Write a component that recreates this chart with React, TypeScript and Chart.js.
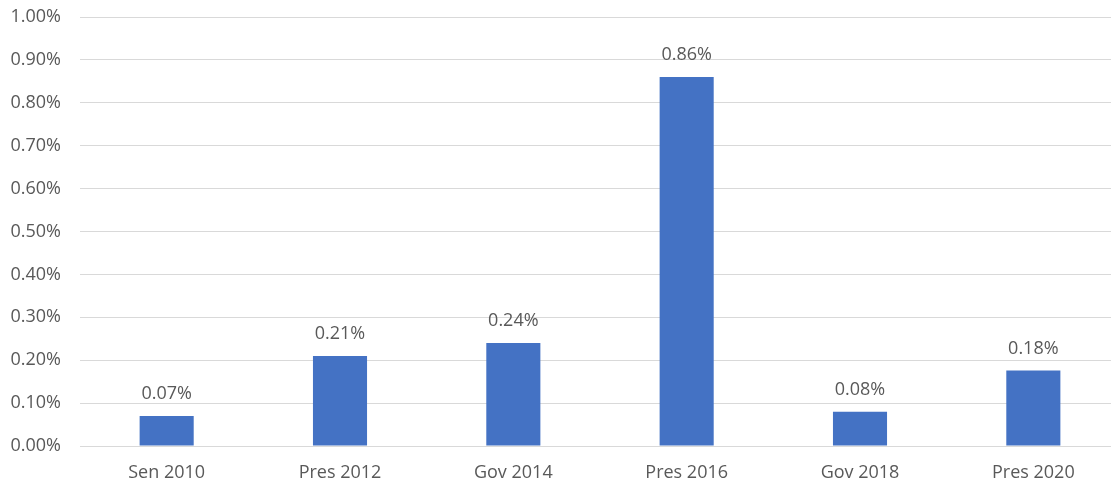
import React, { useEffect, useRef } from "react";
import { Chart, registerables } from "chart.js";

Chart.register(...registerables);

const categories = ["Sen 2010", "Pres 2012", "Gov 2014", "Pres 2016", "Gov 2018", "Pres 2020"];
const values = [0.07, 0.21, 0.24, 0.86, 0.08, 0.176];
const valueLabels = ["0.07%", "0.21%", "0.24%", "0.86%", "0.08%", "0.18%"];

const FONT = "'Open Sans', 'Liberation Sans', sans-serif";
const TEXT = "#595959";

const labelPlugin = {
  id: "barLabels",
  afterDatasetsDraw(chart: any) {
    const ctx = chart.ctx;
    const meta = chart.getDatasetMeta(0);
    ctx.save();
    ctx.font = `18px ${FONT}`;
    ctx.fillStyle = TEXT;
    ctx.textAlign = "center";
    ctx.textBaseline = "middle";
    meta.data.forEach((bar: any, i: number) => {
      ctx.fillText(valueLabels[i], bar.x, bar.y - 22);
    });
    ctx.restore();
  },
};

export default function App() {
  const ref = useRef<HTMLCanvasElement>(null);
  useEffect(() => {
    document.body.style.margin = "0";
    const chart = new Chart(ref.current!, {
      type: "bar",
      data: {
        labels: categories,
        datasets: [
          {
            data: values,
            backgroundColor: "#4472C4",
            barPercentage: 0.312,
            categoryPercentage: 1,
          },
        ],
      },
      options: {
        responsive: false,
        animation: false,
        layout: { padding: { top: 17, right: 0, left: 0, bottom: 0 } },
        plugins: { legend: { display: false }, tooltip: { enabled: false } },
        scales: {
          x: {
            grid: { display: false },
            border: { display: false },
            ticks: { color: TEXT, font: { family: FONT, size: 18 }, padding: 8, maxRotation: 0 },
            afterFit: (s: any) => {
              s.height = 39;
            },
          },
          y: {
            min: 0,
            max: 1,
            grid: { color: "#d9d9d9", drawTicks: true, tickLength: 19, tickColor: "rgba(0,0,0,0)" },
            border: { display: false },
            ticks: {
              stepSize: 0.1,
              color: TEXT,
              font: { family: FONT, size: 18 },
              padding: 0,
              callback: (v: any) => Number(v).toFixed(2) + "%",
            },
            afterFit: (s: any) => {
              s.width = 80;
            },
          },
        },
      },
      plugins: [labelPlugin],
    });
    return () => chart.destroy();
  }, []);
  return (
    <div style={{ width: 1111, height: 485, overflow: "hidden" }}>
      <canvas ref={ref} width={1120} height={485} style={{ display: "block" }} />
    </div>
  );
}
